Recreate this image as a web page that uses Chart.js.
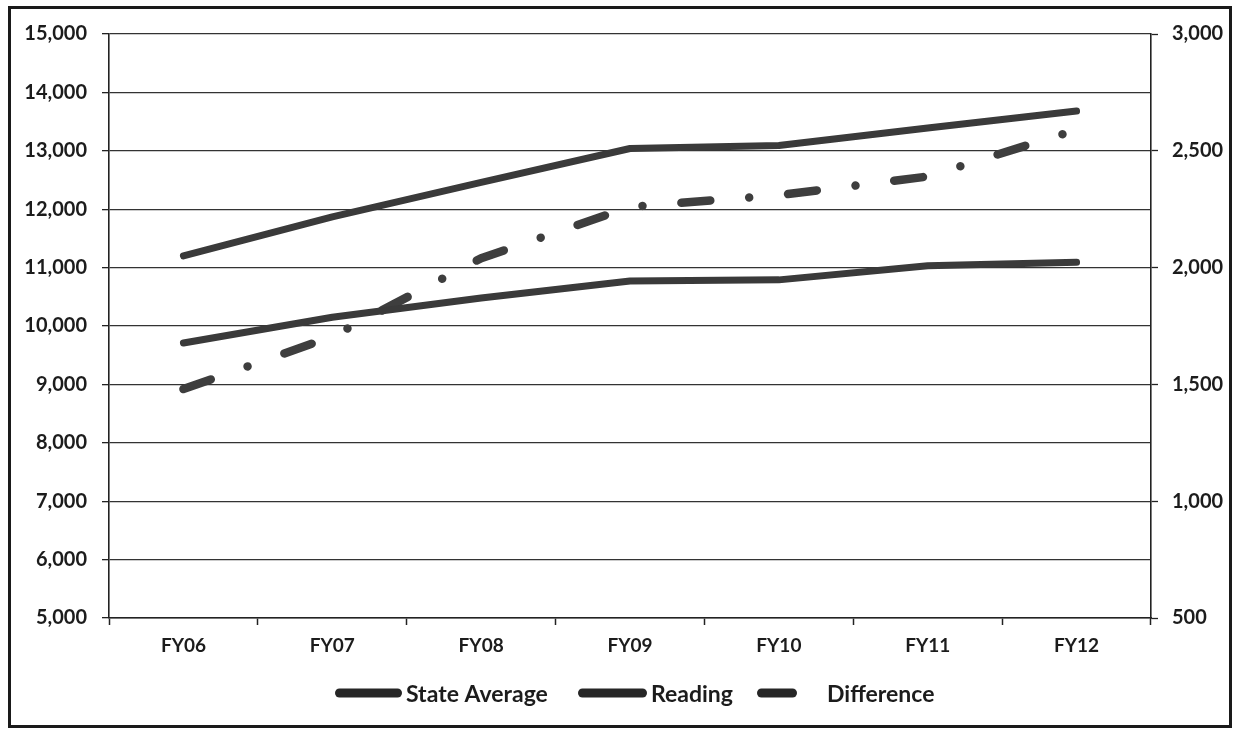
<!DOCTYPE html>
<html>
<head>
<meta charset="utf-8">
<script src="https://cdn.jsdelivr.net/npm/chart.js@4.4.1/dist/chart.umd.min.js"></script>
<style>
  html, body { margin: 0; padding: 0; background: #ffffff; }
  #wrap { width: 1235px; height: 730px; }
</style>
</head>
<body>
<div id="wrap"><canvas id="c" width="1235" height="730"></canvas></div>
<script>
// ---- data ----
const categories = ['FY06', 'FY07', 'FY08', 'FY09', 'FY10', 'FY11', 'FY12'];
const stateAverage = [11200, 11870, 12460, 13040, 13090, 13390, 13680];
const reading = [9710, 10150, 10480, 10770, 10790, 11030, 11090];
const difference = [1480, 1705, 2040, 2260, 2310, 2390, 2590];
const leftTicks = [5000, 6000, 7000, 8000, 9000, 10000, 11000, 12000, 13000, 14000, 15000];
const rightTicks = [500, 1000, 1500, 2000, 2500, 3000];

const FONT = 'Lato, "Open Sans", "DejaVu Sans", sans-serif';
const INK = '#1c1c1c';
const LINE = '#3a3a3a';

// legend layout (visible marker extents and text start)
const legendSlots = [
  { x0: 335, x1: 402, tx: 406 },
  { x0: 578, x1: 647, tx: 651 },
  { x0: 757, x1: 797, tx: 827 }
];
const legendY = 693;

const frame = {
  id: 'frame',
  beforeDraw(chart) {
    const ctx = chart.ctx;
    ctx.save();
    ctx.fillStyle = '#ffffff';
    ctx.fillRect(0, 0, chart.width, chart.height);
    ctx.restore();
  },
  afterDraw(chart) {
    const ctx = chart.ctx;
    ctx.save();
    // legend
    const lw = 9;
    chart.data.datasets.forEach((ds, i) => {
      const s = legendSlots[i];
      ctx.beginPath();
      ctx.setLineDash([]);
      ctx.lineCap = 'round';
      ctx.lineWidth = lw;
      ctx.strokeStyle = '#262626';
      ctx.moveTo(s.x0 + lw / 2, legendY);
      ctx.lineTo(s.x1 - lw / 2, legendY);
      ctx.stroke();
      ctx.fillStyle = INK;
      ctx.font = 'bold 23px ' + FONT;
      ctx.textBaseline = 'middle';
      ctx.textAlign = 'left';
      ctx.fillText(ds.label, s.tx, legendY + 2);
    });
    // outer frame
    ctx.strokeStyle = '#1a1a1a';
    ctx.lineWidth = 3;
    ctx.strokeRect(9.5, 7.5, 1221, 719);
    ctx.restore();
  }
};

Chart.defaults.font.family = FONT;
Chart.defaults.color = INK;

new Chart(document.getElementById('c'), {
  type: 'line',
  data: {
    labels: categories,
    datasets: [
      {
        label: 'State Average',
        data: stateAverage,
        yAxisID: 'y',
        borderColor: LINE,
        backgroundColor: LINE,
        borderWidth: 7,
        borderCapStyle: 'round',
        borderJoinStyle: 'round',
        pointRadius: 0,
        tension: 0
      },
      {
        label: 'Reading',
        data: reading,
        yAxisID: 'y',
        borderColor: LINE,
        backgroundColor: LINE,
        borderWidth: 7,
        borderCapStyle: 'round',
        borderJoinStyle: 'round',
        pointRadius: 0,
        tension: 0
      },
      {
        label: 'Difference',
        data: difference,
        yAxisID: 'y1',
        borderColor: '#3e3e3e',
        backgroundColor: '#3e3e3e',
        borderWidth: 8.5,
        borderDash: [29, 39, 0.01, 39],
        borderCapStyle: 'round',
        borderJoinStyle: 'round',
        pointRadius: 0,
        tension: 0
      }
    ]
  },
  plugins: [frame],
  options: {
    responsive: false,
    animation: false,
    layout: { padding: { top: 34, left: 20, right: 0, bottom: 56 } },
    plugins: {
      tooltip: { enabled: false },
      legend: { display: false }
    },
    scales: {
      x: {
        offset: true,
        grid: {
          offset: true,
          drawOnChartArea: false,
          drawTicks: true,
          tickLength: 7,
          tickColor: '#222',
          tickWidth: 1.5
        },
        border: { display: true, color: '#222', width: 1.6 },
        ticks: { padding: 9, color: INK, font: { size: 19, weight: 'bold' } },
        afterFit(scale) { scale.height = 56; }
      },
      y: {
        position: 'left',
        min: leftTicks[0],
        max: leftTicks[leftTicks.length - 1],
        afterBuildTicks(scale) { scale.ticks = leftTicks.map(v => ({ value: v })); },
        grid: {
          color: '#333',
          lineWidth: 1.3,
          tickLength: 7,
          tickColor: '#222',
          tickWidth: 1.3
        },
        border: { display: true, color: '#222', width: 1.6 },
        ticks: {
          padding: 15,
          color: INK,
          font: { size: 20, weight: 'bold' },
          callback: v => Number(v).toLocaleString('en-US')
        },
        afterFit(scale) { scale.width = 89; }
      },
      y1: {
        position: 'right',
        min: rightTicks[0],
        max: rightTicks[rightTicks.length - 1],
        afterBuildTicks(scale) { scale.ticks = rightTicks.map(v => ({ value: v })); },
        grid: {
          drawOnChartArea: false,
          drawTicks: true,
          tickLength: 7,
          tickColor: '#222',
          tickWidth: 1.3
        },
        border: { display: true, color: '#222', width: 1.6 },
        ticks: {
          padding: 14,
          color: INK,
          font: { size: 20, weight: 'bold' },
          callback: v => Number(v).toLocaleString('en-US')
        },
        afterFit(scale) { scale.width = 84; }
      }
    }
  }
});
</script>
</body>
</html>
